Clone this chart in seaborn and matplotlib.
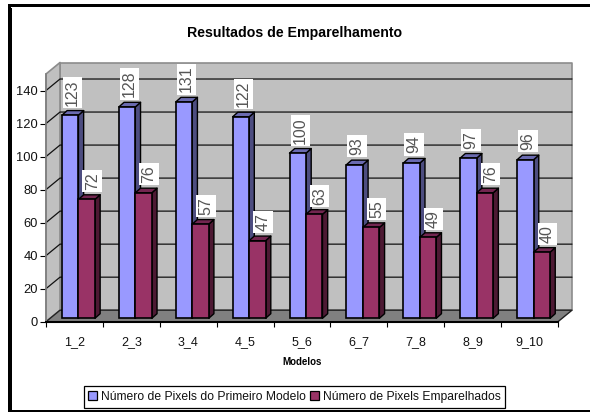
import numpy as np, pandas as pd
import matplotlib
matplotlib.use("Agg")
import matplotlib.pyplot as plt
import seaborn as sns
from matplotlib.patches import Polygon, Patch, Rectangle
from matplotlib.lines import Line2D
from matplotlib.transforms import Affine2D, IdentityTransform

modelos = ["1_2","2_3","3_4","4_5","5_6","6_7","7_8","8_9","9_10"]
primeiro = [123,128,131,122,100,93,94,97,96]
emparelhados = [72,76,57,47,63,55,49,76,40]
serie1 = "Número de Pixels do Primeiro Modelo"
serie2 = "Número de Pixels Emparelhados"
titulo = "Resultados de Emparelhamento"
eixo_x = "Modelos"

W, H = 590, 412
sns.set_theme(style="white")
plt.rcParams["font.family"] = ["Liberation Sans", "DejaVu Sans"]
fig = plt.figure(figsize=(W/100, H/100), dpi=100, facecolor="white")
L, R, B, T = 46, 558, 321.7, 74
ax = fig.add_axes([L/W, (H-B)/H, (R-L)/W, (B-T)/H])
ax.patch.set_alpha(0)

df = pd.DataFrame({"Modelos": modelos*2, "v": primeiro+emparelhados,
                   "s": [serie1]*9+[serie2]*9})
BLUE, RED = "#9999FF", "#993366"
sns.barplot(data=df, x="Modelos", y="v", hue="s", palette=[BLUE, RED], width=0.58,
            edgecolor="black", linewidth=1.2, saturation=1, legend=False, ax=ax)
ax.set_xlim(-0.5, 8.5)
ax.set_ylim(0, 150)
ax.set_yticks(range(0, 141, 20))
for s in ("top", "right"):
    ax.spines[s].set_visible(False)
ax.spines["left"].set_color("#808080")
ax.spines["bottom"].set_color("black")
ax.spines["bottom"].set_linewidth(1.5)
ax.set_xticks(range(9), modelos)
ax.set_xticks(np.arange(-0.5, 8.6, 1), minor=True)
ax.tick_params(axis="x", which="minor", bottom=True, length=3.6, width=0.8, color="black")
ax.tick_params(axis="x", which="major", bottom=False, pad=4, labelsize=9, labelcolor="#111111")
ax.tick_params(axis="y", left=True, length=4.3, width=0.8, color="black", pad=1.5,
               labelsize=9.3, labelcolor="#111111")
ax.set_xlabel(eixo_x, fontsize=7, fontweight="bold", x=(302-L)/(R-L), labelpad=6.5, color="black")
ax.set_ylabel("")
ax.set_title(titulo, fontsize=10.2, fontweight="bold", x=(295-L)/(R-L), y=1, pad=(T-36.5)*0.72, color="black")

DX, DY = 14, 11.5      # wall depth, pixels
BX, BY = 4, 3.4        # bars set back from the front, pixels
SX, SY = 5.2, 4.6      # bar depth, pixels
idt = IdentityTransform()
def d(x, y, dx=0, dy=0):
    px = ax.transData.transform((x, y))
    return (px[0]+dx, px[1]+dy)
def poly(pts, fc, ec="black", lw=1.0, z=1):
    ax.add_patch(Polygon(pts, closed=True, facecolor=fc, edgecolor=ec, linewidth=lw,
                         transform=idt, zorder=z, clip_on=False, joinstyle="round"))

x0, x1 = -0.5, 8.5
poly([d(x0,0,DX,DY), d(x1,0,DX,DY), d(x1,150,DX,DY), d(x0,150,DX,DY)], "#C0C0C0", "#8C8C8C", 1.2, 0.5)
poly([d(x0,0), d(x0,0,DX,DY), d(x0,150,DX,DY), d(x0,150)], "#C0C0C0", "#8C8C8C", 1.2, 0.5)
for v in ax.get_yticks()[1:]:
    ax.add_line(Line2D(*zip(d(x0,v), d(x0,v,DX,DY), d(x1,v,DX,DY)), color="#111111", lw=0.9,
                       transform=idt, zorder=0.8, clip_on=False))
poly([d(x0,0), d(x1,0), d(x1,0,DX,DY), d(x0,0,DX,DY)], "#808080", "#222222", 1.0, 1)

shift = Affine2D().translate(BX, BY)
faces = [("#4D4D80", "#6A6AB0"), ("#4D1933", "#732650")]
for k, cont in enumerate(ax.containers):
    for rect in cont:
        a = rect.get_x(); w = rect.get_width(); h = rect.get_height()
        rect.set_transform(ax.transData + shift)
        rect.set_zorder(3 + k + 0.5)
        rect.set_clip_on(False)
        side, top = faces[k]
        z = 3 + k
        poly([d(a+w,0,BX,BY), d(a+w,0,BX+SX,BY+SY), d(a+w,h,BX+SX,BY+SY), d(a+w,h,BX,BY)], side, "black", 1.0, z)
        poly([d(a,h,BX,BY), d(a+w,h,BX,BY), d(a+w,h,BX+SX,BY+SY), d(a,h,BX+SX,BY+SY)], top, "black", 1.0, z)
        ax.annotate(f"{int(h)}", xy=d(a+w/2, h), xycoords=idt,
                    xytext=(BX+2.5+k*3, BY+SY+5), textcoords="offset pixels",
                    rotation=90, ha="center", va="bottom", fontsize=11.5, color="#555555",
                    bbox=dict(boxstyle="square,pad=0.14", fc="white", ec="none"),
                    zorder=6, annotation_clip=False)

hs = [Patch(facecolor=BLUE, edgecolor="black", linewidth=0.9, label=serie1),
      Patch(facecolor=RED, edgecolor="black", linewidth=0.9, label=serie2)]
leg = fig.legend(handles=hs, ncols=2, loc="center", bbox_to_anchor=(294.5/W, (H-397)/H),
                 frameon=True, fancybox=False, edgecolor="black", framealpha=1, fontsize=8.7,
                 handlelength=0.75, handleheight=0.75, handletextpad=0.3, columnspacing=0.35,
                 borderpad=0.38, borderaxespad=0)
leg.get_frame().set_linewidth(0.9)
for t in leg.get_texts():
    t.set_color("#111111")

def pixbox(x, y, w, h):
    fig.add_artist(Rectangle((x/W, 1-(y+h)/H), w/W, h/H, transform=fig.transFigure,
                             facecolor="black", edgecolor="none"))
pixbox(8, 4, 2.6, 408)
pixbox(11.4, 7.5, 1, 403)
pixbox(8, 4, 582, 3)
pixbox(8, 7.6, 582, 0.8)
pixbox(8, 410, 582, 2)

fig.savefig("out.png", dpi=100)
